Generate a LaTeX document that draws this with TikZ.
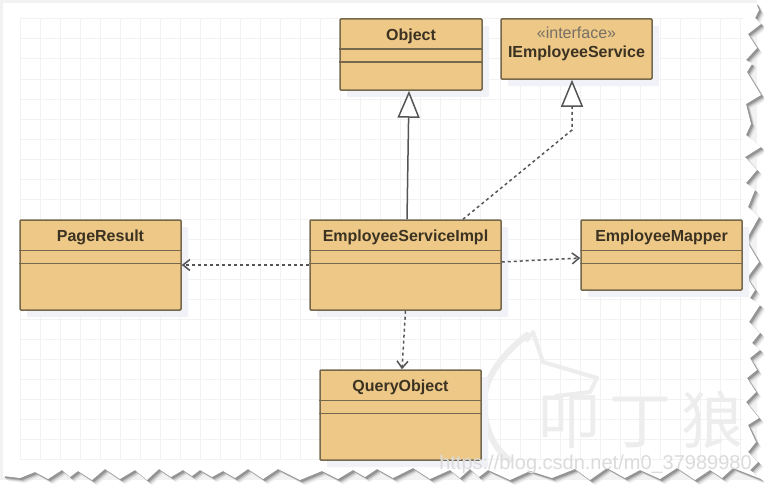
\documentclass[tikz,border=0pt]{standalone}
\usepackage{fontspec}
\setmainfont{Liberation Sans}
\newfontfamily\cjk{Noto Sans CJK SC}
\usetikzlibrary{arrows.meta,shadows}
\definecolor{boxc}{HTML}{EDC887}
\definecolor{edgec}{HTML}{75684C}
\definecolor{namec}{HTML}{3B3222}
\definecolor{linec}{HTML}{555555}
\definecolor{gridc}{HTML}{F2F2F2}
\definecolor{markc}{HTML}{EDEDED}
\definecolor{shadec}{HTML}{F1F2F7}
\newcommand{\tornpath}{(3,3) -- (756,3) -- (759,10) -- (755,18) -- (761,24) -- (748,34) -- (757,48) -- (746,60) -- (752,64) -- (747,72) -- (761,95) -- (746,104) -- (751,124) -- (746,135) -- (761,147) -- (745,157) -- (757,170) -- (746,183) -- (755,190) -- (748,207) -- (759,217) -- (746,240) -- (759,262) -- (747,278) -- (755,290) -- (750,298) -- (760,305) -- (749,322) -- (760,333) -- (752,343) -- (760,350) -- (750,358) -- (757,370) -- (747,378) -- (756,392) -- (746,402) -- (759,418) -- (748,425) -- (756,442) -- (748,452) -- (758,462) -- (750,470) -- (761,479) -- (733,468) -- (722,478) -- (710,470) -- (695,480) -- (677,468) -- (660,479) -- (640,470) -- (625,478) -- (607,468) -- (590,480) -- (575,469) -- (552,478) -- (530,471) -- (510,480) -- (488,470) -- (479,477) -- (470,469) -- (460,478) -- (450,470) -- (430,479) -- (413,468) -- (393,478) -- (377,469) -- (365,477) -- (353,470) -- (338,479) -- (322,471) -- (300,480) -- (278,469) -- (263,479) -- (248,469) -- (235,478) -- (223,471) -- (212,477) -- (200,470) -- (192,476) -- (183,470) -- (171,477) -- (159,469) -- (147,480) -- (135,470) -- (120,479) -- (105,469) -- (92,480) -- (78,471) -- (70,477) -- (62,470) -- (48,479) -- (35,472) -- (20,478) -- (3,476) -- cycle}

\begin{document}
\begin{tikzpicture}[x=1pt, y=-1pt,
    classbox/.style={rectangle, draw=edgec, fill=boxc, line width=1.5pt, rounded corners=1pt, inner sep=0pt, minimum width=161pt, minimum height=90pt, drop shadow={shadow xshift=7pt, shadow yshift=-7pt, fill=shadec, opacity=1}},
    classname/.style={anchor=base, inner sep=0pt, text=namec, font=\fontsize{16}{16}\selectfont\bfseries},
    stereotype/.style={anchor=base, inner sep=0pt, text=namec!70, font=\fontsize{16}{16}\selectfont},
    sepline/.style={draw=edgec, line width=1.5pt},
    gridline/.style={draw=gridc, line width=1pt},
    wolfmark/.style={draw=markc, line width=6pt, line cap=round, line join=round},
    inherit/.style={draw=linec, line width=1.5pt, -{Triangle[open, length=27pt, width=22pt, fill=white]}},
    realize/.style={inherit, dash pattern=on 3pt off 3pt},
    depend/.style={draw=linec, line width=1.5pt, dash pattern=on 3pt off 3pt, -{Straight Barb[length=7pt, width=11pt]}}]

    \useasboundingbox (0,0) rectangle (773,495);
    \fill[white] (0,0) rectangle (773,495);
    \fill[gridc] (0,0) rectangle (757,480);
    \fill[black!6, shift={(5,5)}] \tornpath;
    \fill[black!14, shift={(4,4)}] \tornpath;
    \fill[black!26, shift={(3,3)}] \tornpath;
    \fill[black!42, shift={(2,2)}] \tornpath;
    \fill[white] \tornpath;
    \fill[white] (0,485) rectangle (773,495);
    \fill[white] (764,0) rectangle (773,495);

    \foreach \gx in {20,40,...,740} \draw[gridline] (\gx,19) -- (\gx,459);
    \foreach \gy in {19,39,...,459} \draw[gridline] (20,\gy) -- (743,\gy);

    \draw[wolfmark] (527,335) .. controls (495,360) and (483,385) .. (484,405) .. controls (485,430) and (495,450) .. (510,460);
    \draw[wolfmark, line width=4pt] (527,340) -- (533,332) -- (543,362) -- (597,378) -- (590,392) -- (556,396);
    \node[text=markc, inner sep=0pt, font=\cjk\fontsize{62}{62}\selectfont] (logo) at (641,420) {叩\hspace{10pt}丁\hspace{10pt}狼};

    \node[classbox, minimum width=191pt] (impl) at (405.5,265) {};
    \node[classbox, left of=impl, node distance=305pt] (page) {};
    \node[classbox, minimum height=70pt, right of=impl, node distance=256pt, yshift=10pt] (mapper) {};
    \node[classbox, below of=impl, node distance=150pt, xshift=-5pt] (query) {};
    \node[classbox, minimum width=142pt, minimum height=71pt] (obj) at (411,54.5) {};
    \node[classbox, minimum width=151pt, minimum height=60pt] (iface) at (576.5,49) {};

    \foreach \nm in {impl,page,mapper,query,obj} {
      \draw[sepline] ([yshift=-31pt]\nm.north west) -- ([yshift=-31pt]\nm.north east);
      \draw[sepline] ([yshift=-44pt]\nm.north west) -- ([yshift=-44pt]\nm.north east);
    }

    \node[classname] (implname) at ([yshift=-22pt]impl.north) {EmployeeServiceImpl};
    \node[classname] (pagename) at ([yshift=-22pt]page.north) {PageResult};
    \node[classname] (mappername) at ([yshift=-22pt]mapper.north) {EmployeeMapper};
    \node[classname] (queryname) at ([yshift=-22pt]query.north) {QueryObject};
    \node[classname] (objname) at ([yshift=-22pt]obj.north) {Object};
    \node[stereotype] (ifacetag) at ([yshift=-20pt]iface.north) {«interface»};
    \node[classname] (ifacename) at ([yshift=-39pt]iface.north) {IEmployeeService};
    \node[text=black!14, inner sep=0pt, font=\fontsize{20}{20}\selectfont] (url) at (595.5,464) {https://blog.csdn.net/m0\_37989980};

    \coordinate (ifacebend) at (572,130);

    \draw[inherit] ([xshift=1.5pt]impl.north) -- ([xshift=-2pt]obj.south);
    \draw[realize] ([xshift=57.5pt]impl.north) -- (ifacebend) -- ([xshift=-4.5pt]iface.south);
    \draw[depend] (impl.west) -- (page.east);
    \draw[depend] ([yshift=3pt]impl.east) -- ([yshift=-3pt]mapper.west);
    \draw[depend] (impl.south) -- ([xshift=1.5pt]query.north);

  \end{tikzpicture}
\end{document}
